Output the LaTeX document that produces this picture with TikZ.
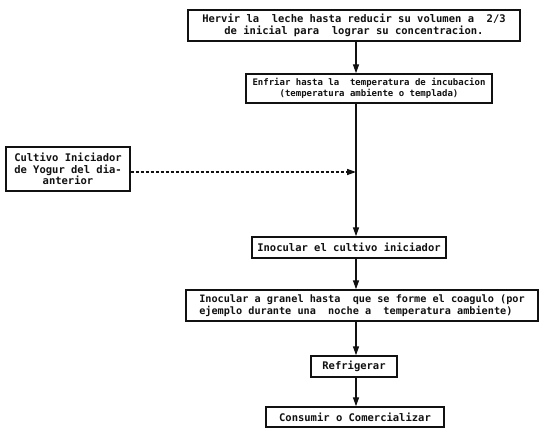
\documentclass[tikz,border=0pt]{standalone}
\usepackage{fontspec}
\usetikzlibrary{arrows.meta, positioning}
\newfontfamily\dotfont{DejaVu Sans Mono}
\definecolor{ink}{HTML}{111111}

\begin{document}
\begin{tikzpicture}[x=1pt, y=-1pt, >={Triangle[length=9pt, width=6pt]},
  stepbox/.style={draw=ink, line width=1.4pt, inner sep=2pt, align=center, text=ink,
    font=\dotfont\bfseries\fontsize{10.5}{11.5}\selectfont},
  flow/.style={draw=ink, line width=1.4pt, ->},
  feed/.style={draw=ink, line width=1.4pt, dash pattern=on 3pt off 2pt, ->}]

% Canvas
\useasboundingbox (0,0) rectangle (544,430);
\coordinate (spine) at (356,0);

% Steps
\node[stepbox, minimum width=332pt, minimum height=31pt] (hervir) at (354,25.5)
  {Hervir la\ \ leche hasta reducir su volumen a\ \ 2/3\\de inicial para\ \ lograr su concentracion.};
\node[stepbox, minimum width=246pt, minimum height=29pt,
  font=\dotfont\bfseries\fontsize{9}{10.5}\selectfont] (enfriar) at (369,88.5)
  {Enfriar hasta la\ \ temperatura de incubacion\\(temperatura ambiente o templada)};
\node[stepbox, minimum width=124pt, minimum height=44pt] (cultivo) at (68,169)
  {Cultivo Iniciador\\de Yogur del dia-\\anterior};
\node[stepbox, minimum width=194pt, minimum height=21pt] (inocular) at (349,247.5)
  {Inocular el cultivo iniciador};
\node[stepbox, minimum width=352pt, minimum height=31pt, align=left,
  font=\dotfont\bfseries\fontsize{10.2}{11.5}\selectfont] (granel) at (362,305.5)
  {Inocular a granel hasta\ \ que se forme el coagulo (por\\ejemplo durante una\ \ noche a\ \ temperatura ambiente)};
\node[stepbox, minimum width=86pt, minimum height=21pt] (refrigerar) at (354,366.5)
  {Refrigerar};
\node[stepbox, minimum width=178pt, minimum height=20pt] (consumir) at (355,417)
  {Consumir o Comercializar};

% Connectors
\draw[flow] (hervir.south -| spine) -- (enfriar.north -| spine);
\draw[flow] (enfriar.south -| spine) -- (inocular.north -| spine);
\draw[feed] ([yshift=-3pt]cultivo.east) -- ([yshift=-3pt]cultivo.east -| spine);
\draw[flow] (inocular.south -| spine) -- (granel.north -| spine);
\draw[flow] (granel.south -| spine) -- (refrigerar.north -| spine);
\draw[flow] (refrigerar.south -| spine) -- (consumir.north -| spine);

\end{tikzpicture}
\end{document}
